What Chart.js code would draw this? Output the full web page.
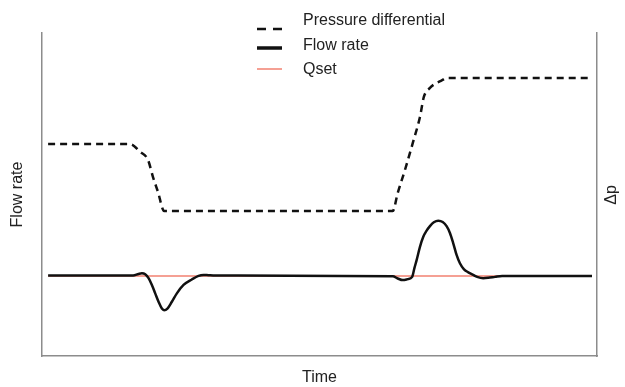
<!DOCTYPE html>
<html>
<head>
<meta charset="utf-8">
<script src="https://cdn.jsdelivr.net/npm/chart.js@4/dist/chart.umd.min.js"></script>
<style>
  html, body { margin: 0; padding: 0; background: #fff; }
  #wrap { width: 625px; height: 387px; }
</style>
</head>
<body>
<div id="wrap"><canvas id="graph" width="625" height="387"></canvas></div>
<script>
// Time axis (arbitrary units 0..100) and values
const pressureTime = [1.1, 15.9, 17.7, 19.1, 20.0, 20.9, 22.0, 63.2, 64.1, 65.4, 66.8, 68.1, 68.8, 69.9, 72.1, 73.0, 99.1];
const pressureValues = [65.6, 65.6, 63.2, 60.7, 55.4, 50.8, 44.9, 44.9, 50.5, 57.6, 65.9, 74.0, 80.2, 83.0, 85.4, 86.1, 86.1];

const flowTime = [1.1, 16.4, 17.4, 18.0, 18.6, 19.2, 19.8, 20.4, 21.0, 21.6, 22.0, 22.6, 23.4, 24.3, 25.5,
                  27.0, 28.2, 29.1, 30.0, 31.2,
                  63.2, 64.1, 65.0, 65.9, 66.7, 67.1, 67.5, 68.1, 68.7, 69.3, 69.9, 70.6, 71.4, 72.2, 72.9,
                  73.5, 74.1, 74.7, 75.3, 76.0, 76.8, 77.7, 78.4, 79.5, 80.4, 81.6, 82.9, 99.1];
const flowValues = [24.9, 24.9, 25.4, 25.6, 25.3, 24.1, 22.0, 19.4, 16.8, 14.7, 14.2, 14.7, 16.8, 19.4, 22.0,
                    23.7, 24.8, 25.1, 25.0, 24.9,
                    24.7, 24.0, 23.5, 23.8, 24.5, 27.2, 29.7, 33.8, 36.9, 38.8, 40.2, 41.4, 41.9, 41.5, 40.2,
                    38.1, 34.9, 31.3, 28.7, 26.9, 25.9, 25.1, 24.5, 24.1, 24.2, 24.5, 24.8, 24.8];

const qsetTime = [1.1, 99.1];
const qsetValues = [24.8, 24.8];

const seriesLabels = ['Pressure differential', 'Flow rate', 'Qset'];
const axisTitles = { x: 'Time', left: 'Flow rate', right: 'Δp' };

function toPoints(xs, ys) {
    return xs.map((x, i) => ({ x: x, y: ys[i] }));
}

const FONT = '"Liberation Sans", Arial, sans-serif';
const FRAME = '#8c8c8c';

// legend and right-hand title drawn by hand so they sit where the original has them
const extras = {
    id: 'extras',
    afterDraw(chart) {
        const ctx = chart.ctx;
        const rows = [
            { textY: 21, lineY: 29 },
            { textY: 46, lineY: 48 },
            { textY: 70, lineY: 69 }
        ];
        ctx.save();
        ctx.font = '16px ' + FONT;
        ctx.fillStyle = '#222';
        ctx.textBaseline = 'middle';
        chart.data.datasets.forEach((ds, i) => {
            const r = rows[i];
            ctx.beginPath();
            ctx.strokeStyle = ds.borderColor;
            ctx.lineWidth = ds.legendWidth;
            ctx.setLineDash(ds.borderDash ? [9, 7] : []);
            ctx.moveTo(257, r.lineY);
            ctx.lineTo(282, r.lineY);
            ctx.stroke();
            ctx.setLineDash([]);
            ctx.fillText(ds.label, 303, r.textY);
        });
        // right axis title, reading bottom to top
        ctx.translate(612, 195);
        ctx.rotate(-Math.PI / 2);
        ctx.textAlign = 'center';
        ctx.fillText(axisTitles.right, 0, 0);
        ctx.restore();
    }
};

const ctx = document.getElementById('graph').getContext('2d');
window.chart = new Chart(ctx, {
    type: 'line',
    data: {
        datasets: [{
            label: seriesLabels[0],
            data: toPoints(pressureTime, pressureValues),
            yAxisID: 'y1',
            borderColor: '#111',
            borderWidth: 2.5,
            borderDash: [7, 5],
            legendWidth: 2.5,
            cubicInterpolationMode: 'monotone',
            pointRadius: 0,
            fill: false
        }, {
            label: seriesLabels[1],
            data: toPoints(flowTime, flowValues),
            yAxisID: 'y',
            borderColor: '#111',
            borderWidth: 2.5,
            legendWidth: 3.5,
            cubicInterpolationMode: 'monotone',
            pointRadius: 0,
            fill: false,
            order: 0
        }, {
            label: seriesLabels[2],
            data: toPoints(qsetTime, qsetValues),
            yAxisID: 'y',
            borderColor: 'rgb(242, 128, 112)',
            borderWidth: 1.5,
            legendWidth: 1.5,
            pointRadius: 0,
            fill: false,
            order: 1
        }]
    },
    options: {
        responsive: false,
        animation: false,
        layout: { padding: { top: 33, left: 0, right: 0, bottom: 0 } },
        plugins: {
            legend: { display: false },
            tooltip: { enabled: false }
        },
        scales: {
            x: {
                type: 'linear',
                min: 0,
                max: 100,
                ticks: { display: false },
                grid: { display: false, drawTicks: false },
                border: { display: true, color: FRAME, width: 1.5 },
                title: {
                    display: true,
                    text: axisTitles.x,
                    color: '#222',
                    font: { family: FONT, size: 16 },
                    padding: { top: 0, bottom: 0 }
                },
                afterFit(scale) { scale.height = 31; }
            },
            y: {
                type: 'linear',
                position: 'left',
                min: 0,
                max: 100,
                ticks: { display: false },
                grid: { display: false, drawTicks: false },
                border: { display: true, color: FRAME, width: 1.5 },
                title: {
                    display: true,
                    text: axisTitles.left,
                    color: '#222',
                    font: { family: FONT, size: 16 },
                    padding: { top: 8, bottom: 0 }
                },
                afterFit(scale) { scale.width = 42; }
            },
            y1: {
                type: 'linear',
                position: 'right',
                min: 0,
                max: 100,
                ticks: { display: false },
                grid: { display: false, drawTicks: false },
                border: { display: true, color: FRAME, width: 1.5 },
                afterFit(scale) { scale.width = 28; }
            }
        }
    },
    plugins: [extras]
});
</script>
</body>
</html>
